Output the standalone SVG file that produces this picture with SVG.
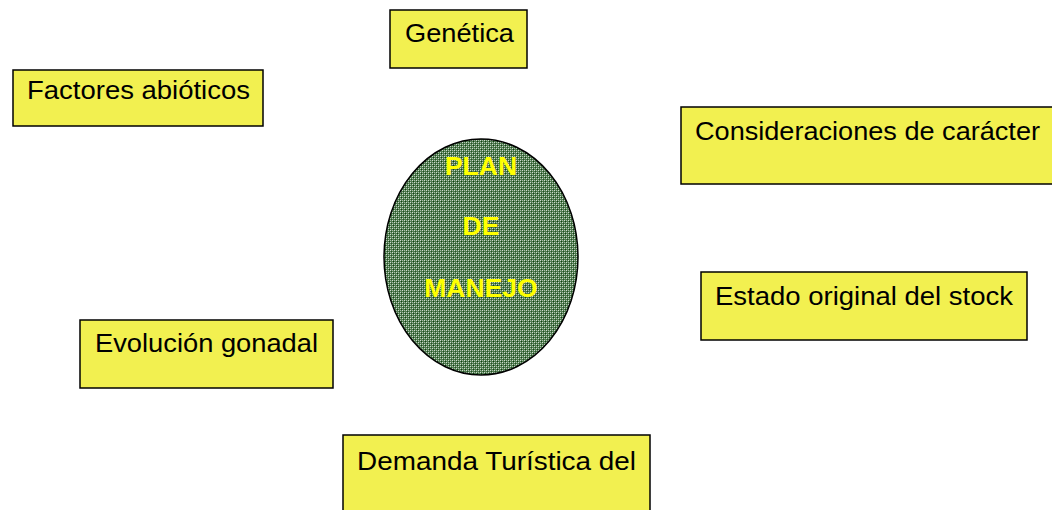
<svg xmlns="http://www.w3.org/2000/svg" width="1052" height="510" viewBox="0 0 1052 510">
<style>
.box{fill:#f2f050;stroke:#000;stroke-width:1.5}
.t{font-family:"Liberation Sans",Arial,sans-serif;font-size:25px;fill:#000}
.c{font-family:"Liberation Sans",Arial,sans-serif;font-size:26.5px;font-weight:bold;fill:#ffff00;text-anchor:middle}
</style>
<defs>
<pattern id="dots" width="4" height="4" patternUnits="userSpaceOnUse">
<rect width="4" height="4" fill="#4f7a4f"/>
<rect x="0" y="0" width="1" height="1" fill="#cfdccf"/>
<rect x="2" y="2" width="1" height="1" fill="#cfdccf"/>
<rect x="1" y="1" width="1" height="1" fill="#0f3f0f"/>
<rect x="3" y="3" width="1" height="1" fill="#245224"/>
<rect x="2" y="0" width="1" height="1" fill="#a9bfa9"/>
<rect x="0" y="2" width="1" height="1" fill="#a9bfa9"/>
</pattern>
</defs>
<rect width="1052" height="510" fill="#fff"/>
<g id="connectors"></g>
<g id="plan">
<ellipse cx="481" cy="257" rx="97" ry="118" fill="url(#dots)" stroke="#000" stroke-width="1.5"/>
<text class="c" x="481" y="175">PLAN</text>
<text class="c" x="481" y="235">DE</text>
<text class="c" x="481" y="297">MANEJO</text>
</g>
<g id="genetica">
<rect class="box" x="390" y="10" width="137" height="58"/>
<text class="t" x="405" y="42" textLength="109" lengthAdjust="spacingAndGlyphs">Genética</text>
</g>
<g id="factores">
<rect class="box" x="13" y="70" width="250" height="56"/>
<text class="t" x="27" y="99" textLength="223" lengthAdjust="spacingAndGlyphs">Factores abióticos</text>
</g>
<g id="consideraciones">
<rect class="box" x="681" y="107" width="380" height="77"/>
<text class="t" x="695" y="140" textLength="345" lengthAdjust="spacingAndGlyphs">Consideraciones de carácter</text>
</g>
<g id="estado">
<rect class="box" x="701" y="272" width="326" height="68"/>
<text class="t" x="715" y="305" textLength="298" lengthAdjust="spacingAndGlyphs">Estado original del stock</text>
</g>
<g id="evolucion">
<rect class="box" x="80" y="320" width="253" height="68"/>
<text class="t" x="95" y="352" textLength="223" lengthAdjust="spacingAndGlyphs">Evolución gonadal</text>
</g>
<g id="demanda">
<rect class="box" x="343" y="435" width="307" height="90"/>
<text class="t" x="357" y="470" textLength="279" lengthAdjust="spacingAndGlyphs">Demanda Turística del</text>
</g>
</svg>
